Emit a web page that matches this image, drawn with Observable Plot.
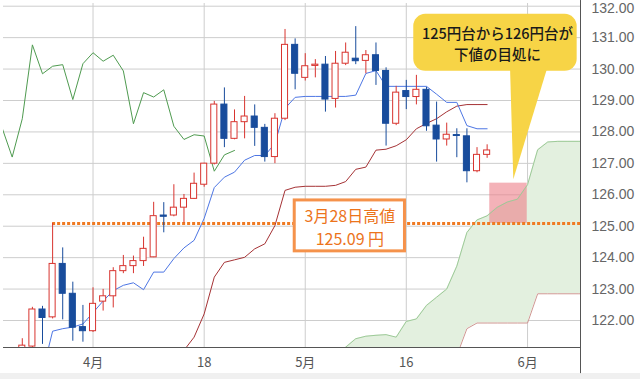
<!DOCTYPE html>
<html><head><meta charset="utf-8">
<script src="https://cdn.jsdelivr.net/npm/d3@7"></script>
<script src="https://cdn.jsdelivr.net/npm/@observablehq/plot@0.6"></script>
<style>
html,body{margin:0;padding:0;background:#fff;}
#chart{width:640px;height:379px;overflow:hidden;position:relative;}
#chart .strip{position:absolute;left:0;top:373px;width:640px;height:6px;background:#f0f0f0;}
#chart svg{position:absolute;left:0;top:0;}
</style></head><body><div id="chart"><div class="strip"></div></div>
<script>
// ---- data (USD/JPY daily) ----
const candleDates = ["2022-03-23","2022-03-24","2022-03-25","2022-03-28","2022-03-29","2022-03-30","2022-03-31",
 "2022-04-01","2022-04-04","2022-04-05","2022-04-06","2022-04-07","2022-04-08","2022-04-11","2022-04-12","2022-04-13","2022-04-14","2022-04-15","2022-04-18","2022-04-19","2022-04-20","2022-04-21","2022-04-22","2022-04-25","2022-04-26","2022-04-27","2022-04-28","2022-04-29",
 "2022-05-02","2022-05-03","2022-05-04","2022-05-05","2022-05-06","2022-05-09","2022-05-10","2022-05-11","2022-05-12","2022-05-13","2022-05-16","2022-05-17","2022-05-18","2022-05-19","2022-05-20","2022-05-23","2022-05-24","2022-05-25","2022-05-26"];
const open = [120.80,121.17,122.35,122.10,123.80,122.85,121.79,
 121.66,122.60,122.77,123.57,123.73,123.89,124.01,125.34,125.34,125.59,125.87,126.32,126.99,128.87,127.78,128.31,128.49,128.13,127.20,128.42,130.77,
 129.72,130.10,130.14,129.05,130.17,130.33,130.26,130.44,129.94,128.26,129.30,129.11,129.34,128.20,127.76,127.90,127.86,126.75,127.27];
const high = [121.42,122.42,122.45,125.09,124.31,123.22,122.48,
 123.04,122.99,123.68,124.07,124.05,124.65,125.76,125.75,126.32,126.01,126.69,127.00,128.97,129.40,128.70,129.13,128.86,128.24,128.58,131.26,130.96,
 130.49,130.30,130.40,130.56,130.83,131.35,130.59,130.83,130.04,129.45,129.64,129.80,129.42,128.95,128.28,128.10,128.10,127.50,127.59];
const low = [120.60,121.00,121.24,122.05,122.02,121.34,121.31,
 121.62,122.30,122.40,123.49,123.49,123.72,124.00,124.79,125.30,125.10,125.85,126.24,126.95,127.50,127.75,127.78,127.54,127.04,126.99,128.36,129.34,
 129.62,129.72,128.63,128.76,130.11,130.14,129.85,129.48,127.55,128.20,128.71,128.86,128.02,127.04,127.55,127.18,126.38,126.70,127.16];
const close = [121.20,122.35,122.08,123.80,122.85,121.77,121.66,
 122.53,122.77,123.57,123.73,123.89,124.28,125.32,125.30,125.59,125.87,126.35,126.99,128.87,127.78,128.31,128.49,128.13,127.20,128.42,130.77,129.85,
 130.09,130.14,129.03,130.17,130.52,130.25,130.44,129.94,128.26,129.25,129.11,129.34,128.18,127.76,127.91,127.87,126.75,127.27,127.41];

// Ichimoku lines (one value per trading day from the start date)
const tenkanStart = "2022-03-25";
const tenkan = [120.36,121.66,121.74,121.79,121.89,
 122.25,122.62,122.95,123.12,123.20,122.98,123.54,123.54,123.97,124.31,
 124.55,125.25,126.23,126.56,126.72,127.10,127.25,127.25,127.63,128.75,
 129.10,129.13,129.13,129.13,129.13,129.13,129.17,129.86,129.95,129.45,
 129.45,129.45,129.45,129.45,129.20,128.94,128.94,128.20,128.10,128.10];
const kijunStart = "2022-04-13";
const kijun = [120.85,121.05,121.47,122.21,123.38,123.85,123.93,124.01,124.28,124.44,
 125.02,126.14,126.24,126.27,126.27,126.27,126.30,126.42,126.81,126.88,
 127.42,127.45,127.56,127.75,128.10,128.27,128.42,128.64,128.82,128.87,128.87,128.87];
const spanStart = "2022-05-05";
const spanA = [120.90,121.15,121.42,121.50,121.53,121.55,121.47,121.97,122.05,122.48,
 122.74,123.00,123.73,124.80,125.20,125.33,125.60,125.77,125.86,126.32,
 127.43,127.68,127.70,127.70,127.70,127.70];
const spanB = [119.70,119.70,119.70,119.70,119.70,119.70,119.70,120.03,120.03,120.30,
 120.30,120.50,120.88,121.74,121.92,121.92,121.92,121.92,121.92,121.92,
 122.85,122.85,122.85,122.85,122.85,122.85];
const chikouShift = 25;

const yTicks = [122,123,124,125,126,127,128,129,130,131,132];
const xTickDates = ["2022-04-01","2022-04-18","2022-05-02","2022-05-16","2022-06-01"];
const xTickLabels = ["4月","18","5月","16","6月"];

const highDate = "2022-03-28";
const highValue = 125.09;
const noteLines = ["3月28日高値","125.09 円"];
const bubbleLines = ["125円台から126円台が","下値の目処に"];
const zoneTop = 126.37;

// ---- trading-day axis ----
const tradingDays = d3.utcDay.range(new Date("2022-03-21"), new Date("2022-06-10"))
  .filter(d => d.getUTCDay() % 6 !== 0).map(d => d.toISOString().slice(0,10));
const idx = new Map(tradingDays.map((d,i)=>[d,i]));

const candles = candleDates.map((d,k)=>({x: idx.get(d), open: open[k], high: high[k], low: low[k], close: close[k], up: close[k] >= open[k]}));
const seq = (start, vals) => vals.map((v,k)=>({x: idx.get(start)+k, y: v}));
const tenkanData = seq(tenkanStart, tenkan);
const kijunData = seq(kijunStart, kijun);
const cloud = spanA.map((a,k)=>({x: idx.get(spanStart)+k, a, b: spanB[k]}));
const chikou = candles.map(c => ({x: c.x - chikouShift, y: c.close}));

const xDom = [0.14, 57.24];
const yDom = [121.141, 132.086];
const UP = "#d8342f", DOWN = "#184c9c";
const labelMap = new Map(xTickDates.map((d,k)=>[idx.get(d), xTickLabels[k]]));
const xTicks = xTickDates.map(d => idx.get(d));
const jp = "'Noto Sans CJK JP', sans-serif";
const yFont = "'Liberation Sans', Arial, sans-serif";

const chart = Plot.plot({
  width: 640, height: 379,
  marginLeft: 3, marginRight: 60, marginTop: 3, marginBottom: 32,
  x: {domain: xDom},
  y: {domain: yDom},
  style: {background: "transparent", fontFamily: jp},
  marks: [
    Plot.gridY(yTicks, {stroke: "#cdcdcd", strokeOpacity: 1}),
    Plot.gridX(xTicks, {stroke: "#cdcdcd", strokeOpacity: 1}),
    // cloud
    Plot.areaY(cloud, {x: "x", y1: "b", y2: "a", fill: "#e3f0df", clip: true}),
    // target zone
    Plot.rect([0], {x1: 48.26, x2: 51.97, y1: highValue, y2: zoneTop, fill: "#ec7f89", fillOpacity: 0.6}),
    Plot.line(cloud, {x: "x", y: "a", stroke: "#9dca98", strokeWidth: 1, clip: true}),
    Plot.line(cloud, {x: "x", y: "b", stroke: "#cf9792", strokeWidth: 1, clip: true}),
    // chikou, kijun, tenkan
    Plot.line(chikou, {x: "x", y: "y", stroke: "#4f9b50", strokeWidth: 1, clip: true}),
    Plot.line(kijunData, {x: "x", y: "y", stroke: "#a53235", strokeWidth: 1, clip: true}),
    Plot.line(tenkanData, {x: "x", y: "y", stroke: "#4d76e4", strokeWidth: 1, clip: true}),
    // 3/28 high dotted line
    Plot.ruleY([highValue], {x1: idx.get(highDate), x2: xDom[1], stroke: "#f07a22", strokeWidth: 3, strokeDasharray: "3,2"}),
    // candles
    Plot.ruleX(candles, {x: "x", y1: "low", y2: "high", stroke: d => d.up ? UP : DOWN, strokeWidth: 1, clip: true}),
    Plot.rect(candles, {x1: d => d.x - 0.3, x2: d => d.x + 0.3, y1: "open", y2: "close",
      fill: d => d.up ? "#ffffff" : DOWN, stroke: d => d.up ? UP : DOWN, strokeWidth: 1, clip: true}),
    // note box
    Plot.rect([0], {x1: 28.96, x2: 39.87, y1: 124.20, y2: 125.82, fill: "#ffffff", stroke: "#f5924b", strokeWidth: 3}),
    Plot.text([noteLines.join("\n")], {x: 34.42, y: 125.0, text: d => d, fill: "#ec741c", fontSize: 16, lineHeight: 1.46, fontFamily: jp}),
    // speech bubble
    Plot.rect([0], {x1: 40.74, x2: 56.91, y1: 129.93, y2: 131.74, fill: "#f7d446", rx: 12}),
    Plot.areaY([{x: 50.31, y1: 130.1, y2: 130.1}, {x: 50.64, y1: 126.48, y2: 130.1}, {x: 54.07, y1: 130.1, y2: 130.1}],
      {x: "x", y1: "y1", y2: "y2", fill: "#f7d446"}),
    Plot.text([bubbleLines.join("\n")], {x: 49.03, y: 130.834, text: d => d, fill: "#1a1a1a", fontSize: 14.5, lineHeight: 1.47, fontWeight: 500, fontFamily: jp}),
    // axis lines
    Plot.ruleY([yDom[0]], {x1: xDom[0], x2: xDom[1], stroke: "#555"}),
    Plot.ruleX([xDom[1]], {y1: 132.18, y2: 120.31, stroke: "#555"}),
    Plot.axisY(yTicks.slice(0, -1), {anchor: "right", tickSize: 0, tickPadding: 11, tickFormat: d => d.toFixed(2),
      fontSize: 14, fill: "#666", label: null, fontFamily: yFont}),
    Plot.axisY(yTicks.slice(-1), {anchor: "right", tickSize: 0, tickPadding: 11, tickFormat: d => d.toFixed(2),
      fontSize: 14, fill: "#666", label: null, fontFamily: yFont, dy: 2.5}),
    Plot.axisX(xTicks, {tickSize: 0, tickPadding: 10, tickFormat: d => labelMap.get(d),
      fontSize: 13, fill: "#555", label: null, fontFamily: jp})
  ]
});
document.getElementById("chart").appendChild(chart);
</script></body></html>
